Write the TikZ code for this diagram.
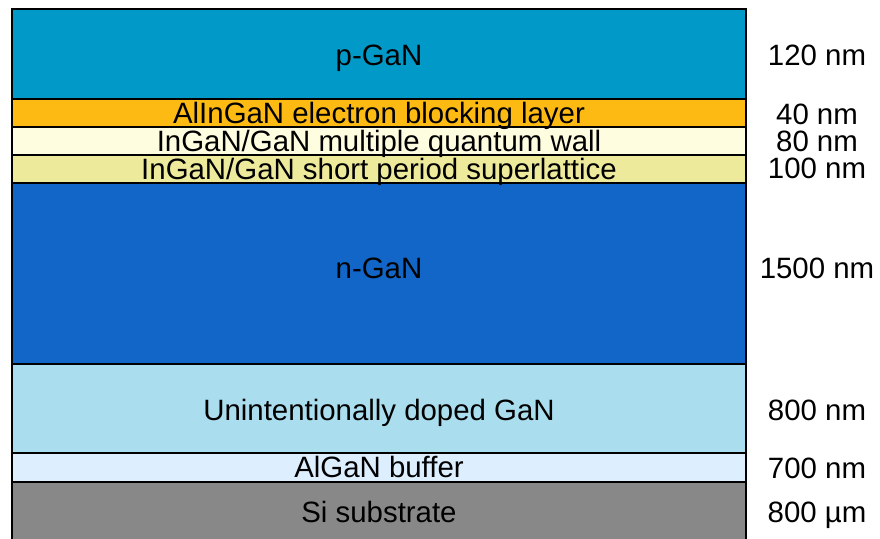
\documentclass[tikz,border=0pt]{standalone}
\usepackage{fontspec}
\setmainfont{Liberation Sans}
\definecolor{cpgan}{RGB}{0,153,200}
\definecolor{cebl}{RGB}{253,186,18}
\definecolor{cmqw}{RGB}{255,253,224}
\definecolor{csps}{RGB}{238,234,156}
\definecolor{cngan}{RGB}{17,102,200}
\definecolor{cuid}{RGB}{170,221,238}
\definecolor{calgan}{RGB}{221,238,255}
\definecolor{csi}{RGB}{136,136,136}
\begin{document}
\begin{tikzpicture}[x=1pt,y=-1pt,
  layerbox/.style={draw=black, line width=2pt},
  lbl/.style={font=\fontsize{29.4}{32}\selectfont, inner sep=0pt, text height=21pt, text depth=0pt, anchor=center}]
\useasboundingbox (0,0) rectangle (880,538);
\begin{scope}
\clip (0,0) rectangle (880,538);
\filldraw[layerbox, fill=cpgan] (12,9) rectangle (746,99);
\filldraw[layerbox, fill=cebl] (12,99) rectangle (746,127);
\filldraw[layerbox, fill=cmqw] (12,127) rectangle (746,155);
\filldraw[layerbox, fill=csps] (12,155) rectangle (746,183);
\filldraw[layerbox, fill=cngan] (12,183) rectangle (746,364);
\filldraw[layerbox, fill=cuid] (12,364) rectangle (746,453);
\filldraw[layerbox, fill=calgan] (12,453) rectangle (746,482);
\filldraw[layerbox, fill=csi] (12,482) rectangle (746,545);
\end{scope}
\node[lbl] (t1) at (379,55) {p-GaN};
\node[lbl] (t2) at (379,113) {AlInGaN electron blocking layer};
\node[lbl] (t3) at (379,141) {InGaN/GaN multiple quantum wall};
\node[lbl] (t4) at (379,169) {InGaN/GaN short period superlattice};
\node[lbl] (t5) at (379,268) {n-GaN};
\node[lbl] (t6) at (379,410) {Unintentionally doped GaN};
\node[lbl] (t7) at (379,467) {AlGaN buffer};
\node[lbl] (t8) at (379,512) {Si substrate};
\node[lbl] (d1) at (817,55) {120 nm};
\node[lbl] (d2) at (817,114) {40 nm};
\node[lbl] (d3) at (817,141) {80 nm};
\node[lbl] (d4) at (817,168) {100 nm};
\node[lbl] (d5) at (817,268) {1500 nm};
\node[lbl] (d6) at (817,410) {800 nm};
\node[lbl] (d7) at (817,468) {700 nm};
\node[lbl] (d8) at (817,512) {800 µm};
\end{tikzpicture}
\end{document}
